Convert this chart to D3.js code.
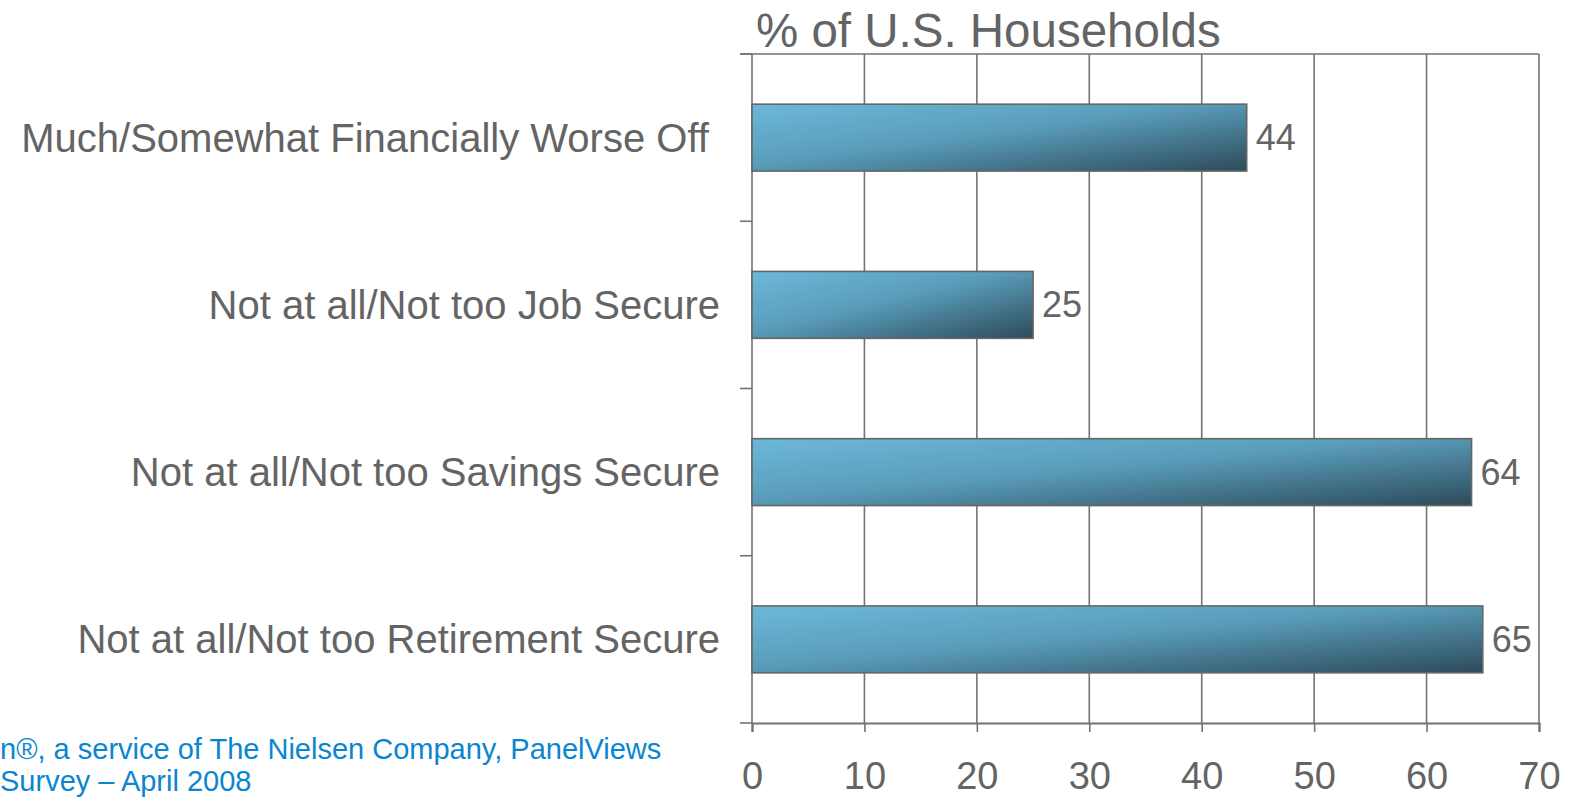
<!DOCTYPE html>
<html>
<head>
<meta charset="utf-8">
<script src="https://cdn.jsdelivr.net/npm/d3@7"></script>
<style>
  body { margin: 0; background: #fff; }
  svg { font-family: "Liberation Sans", Arial, sans-serif; }
</style>
</head>
<body>
<script>
// data
var categories = ["Much/Somewhat Financially Worse Off ", "Not at all/Not too Job Secure",
                  "Not at all/Not too Savings Secure", "Not at all/Not too Retirement Secure"];
var values = [44, 25, 64, 65];
var xTicks = [0, 10, 20, 30, 40, 50, 60, 70];
var title = "% of U.S. Households";
var sourceLines = ["n®, a service of The Nielsen Company, PanelViews", "Survey – April 2008"];

var width = 1574, height = 800;
var margin = {top: 54, right: 35, bottom: 77, left: 752};
var w = width - margin.left - margin.right,   // 787
    h = height - margin.top - margin.bottom;  // 669

var svg = d3.select("body").append("svg")
    .attr("width", width).attr("height", height);

// bar gradient, light top-left to dark bottom-right
var grad = svg.append("defs").append("linearGradient")
    .attr("id", "barGrad")
    .attr("x1", 0).attr("y1", 0).attr("x2", 1).attr("y2", 1);
grad.append("stop").attr("offset", "0%").attr("stop-color", "#6cb8da");
grad.append("stop").attr("offset", "45%").attr("stop-color", "#5a9dbb");
grad.append("stop").attr("offset", "100%").attr("stop-color", "#2d4b5a");

var g = svg.append("g").attr("transform", "translate(" + margin.left + "," + margin.top + ")");

var x = d3.scaleLinear().domain([0, 70]).range([0, w]);
var y = d3.scaleBand().domain(categories).range([0, h]).paddingInner(0.6).paddingOuter(0.3);

var lineCol = "#737373", textCol = "#646464";

// vertical gridlines (incl. 0 and 70)
g.append("g").selectAll("line").data(xTicks).join("line")
    .attr("x1", function(d) { return x(d); }).attr("x2", function(d) { return x(d); })
    .attr("y1", 0).attr("y2", h)
    .attr("stroke", lineCol).attr("stroke-width", 1.6);

// top frame line
g.append("line").attr("x1", -12).attr("x2", x(70)).attr("y1", 0).attr("y2", 0)
    .attr("stroke", lineCol).attr("stroke-width", 1.6);

// left axis ticks at band boundaries
var yTicks = d3.range(categories.length + 1).map(function(i) { return i * h / categories.length; });
g.append("g").selectAll("line").data(yTicks).join("line")
    .attr("x1", -12).attr("x2", 0)
    .attr("y1", function(d) { return d; }).attr("y2", function(d) { return d; })
    .attr("stroke", lineCol).attr("stroke-width", 1.6);

// bottom axis
var xAxis = g.append("g").attr("transform", "translate(0," + h + ")")
    .call(d3.axisBottom(x).tickValues(xTicks).tickSize(9).tickPadding(30));
xAxis.select(".domain").attr("stroke", lineCol).attr("stroke-width", 2.2);
xAxis.selectAll(".tick line").attr("stroke", lineCol).attr("stroke-width", 1.6);
xAxis.selectAll(".tick text")
    .attr("fill", textCol).style("font-size", "38px")
    .style("font-family", "'Liberation Sans', Arial, sans-serif");

// bars
g.append("g").selectAll("rect").data(values).join("rect")
    .attr("x", 0)
    .attr("y", function(d, i) { return y(categories[i]); })
    .attr("width", function(d) { return x(d); })
    .attr("height", y.bandwidth())
    .attr("fill", "url(#barGrad)")
    .attr("stroke", "#666").attr("stroke-width", 1.6);

// value labels
g.append("g").selectAll("text").data(values).join("text")
    .attr("x", function(d) { return x(d) + 9; })
    .attr("y", function(d, i) { return y(categories[i]) + y.bandwidth() / 2; })
    .attr("dy", "0.35em")
    .attr("fill", textCol).style("font-size", "36px")
    .text(function(d) { return d; });

// category labels
g.append("g").selectAll("text").data(categories).join("text")
    .attr("x", -32)
    .attr("y", function(d) { return y(d) + y.bandwidth() / 2; })
    .attr("dy", "0.35em")
    .attr("text-anchor", "end")
    .style("white-space", "pre")
    .attr("fill", textCol).style("font-size", "40px")
    .text(function(d) { return d; });

// title
svg.append("text")
    .attr("x", 756).attr("y", 47)
    .attr("fill", textCol).style("font-size", "47.5px")
    .text(title);

// source note
svg.append("g").selectAll("text").data(sourceLines).join("text")
    .attr("x", 0)
    .attr("y", function(d, i) { return 759 + i * 32; })
    .attr("fill", "#0a86d0").style("font-size", "29px")
    .text(function(d) { return d; });
</script>
</body>
</html>
